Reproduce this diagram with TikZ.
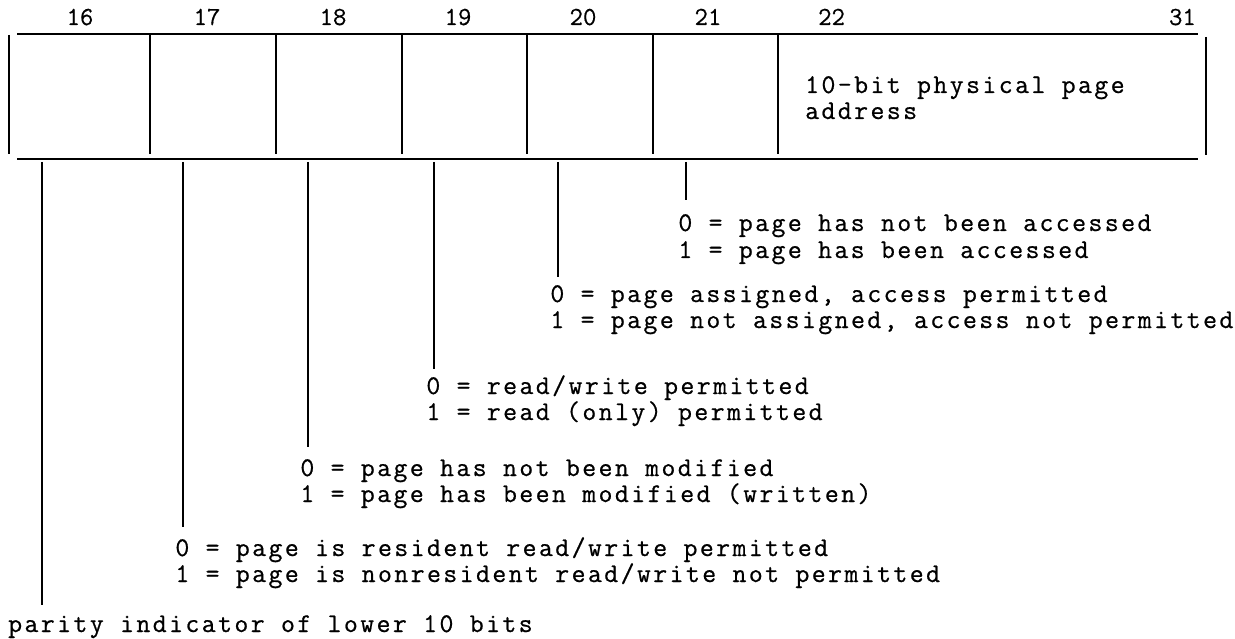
\documentclass[tikz,border=0pt]{standalone}
\usepackage{fontspec}
\newfontfamily\twfont{Latin Modern Mono}[FakeBold=0.7,LetterSpace=9]
\newfontfamily\numfont{Latin Modern Mono}[FakeBold=0.5]
\begin{document}
\begin{tikzpicture}[x=1pt,y=-1pt,
  rule/.style={line width=2.6pt},
  sepline/.style={line width=1.8pt},
  leader/.style={line width=1.4pt},
  desc/.style={anchor=base west, inner sep=0pt, font=\twfont\fontsize{27}{27}\selectfont},
  bitno/.style={anchor=base, inner sep=0pt, font=\numfont\fontsize{26}{26}\selectfont},
  cellbox/.style={inner sep=0pt, minimum height=119pt}]
\useasboundingbox (0,0) rectangle (1235,639);
% cells (invisible nodes)
\node[cellbox, minimum width=141pt] (c16) at (79.5,94.5) {};
\node[cellbox, minimum width=126pt] (c17) at (213,94.5) {};
\node[cellbox, minimum width=126pt] (c18) at (339,94.5) {};
\node[cellbox, minimum width=125pt] (c19) at (464.5,94.5) {};
\node[cellbox, minimum width=126pt] (c20) at (590,94.5) {};
\node[cellbox, minimum width=125pt] (c21) at (715.5,94.5) {};
\node[cellbox, minimum width=428pt] (c22) at (992,94.5) {};
% frame
\draw[rule] (17,34) -- (1198,34);
\draw[rule] (17,159) -- (1198,159);
\draw[sepline] (c16.north west) -- (c16.south west);
\foreach \c in {c16,c17,c18,c19,c20,c21}
  \draw[sepline] (\c.north east) -- (\c.south east);
\draw[sepline] ([yshift=-2pt]c22.north east) -- ([yshift=-1pt]c22.south east);
% bit numbers
\node[bitno] (n16) at (80,25) {16};
\node[bitno] (n17) at (207,25) {17};
\node[bitno] (n18) at (333,25) {18};
\node[bitno] (n19) at (458,25) {19};
\node[bitno] (n20) at (583,25) {20};
\node[bitno] (n21) at (708,25) {21};
\node[bitno, anchor=base west] (n22) at (818,25) {22};
\node[bitno, anchor=base east] (n31) at (1196,25) {31};
% field text
\node[desc] (addr1) at (805,93) {10-bit physical page};
\node[desc] (addr2) at (805,119) {address};
% descriptions
\node[desc] (d21a) at (678.2,231) {0 = page has not been accessed};
\node[desc] (d21b) at (678.2,258) {1 = page has been accessed};
\node[desc] (d20a) at (550.2,302) {0 = page assigned, access permitted};
\node[desc] (d20b) at (550.2,328) {1 = page not assigned, access not permitted};
\node[desc] (d19a) at (426.2,394) {0 = read/write permitted};
\node[desc] (d19b) at (426.2,420) {1 = read (only) permitted};
\node[desc] (d18a) at (300.2,476) {0 = page has not been modified};
\node[desc] (d18b) at (300.2,502) {1 = page has been modified (written)};
\node[desc] (d17a) at (175.2,556) {0 = page is resident read/write permitted};
\node[desc] (d17b) at (175.2,582) {1 = page is nonresident read/write not permitted};
\node[desc] (d16) at (8,632) {parity indicator of lower 10 bits};
% leader tops
\coordinate (t16) at (42,162);
\coordinate (t17) at (183,162);
\coordinate (t18) at (308,162);
\coordinate (t19) at (434,162);
\coordinate (t20) at (558,162);
\coordinate (t21) at (686,162);
% leaders
\draw[leader, shorten >=31pt] (t21) -- (t21 |- d21a.base);
\draw[leader, shorten >=25pt] (t20) -- (t20 |- d20a.base);
\draw[leader, shorten >=25pt] (t19) -- (t19 |- d19a.base);
\draw[leader, shorten >=29pt] (t18) -- (t18 |- d18a.base);
\draw[leader, shorten >=29pt] (t17) -- (t17 |- d17a.base);
\draw[leader, shorten >=27pt] (t16) -- (t16 |- d16.base);
\end{tikzpicture}
\end{document}
